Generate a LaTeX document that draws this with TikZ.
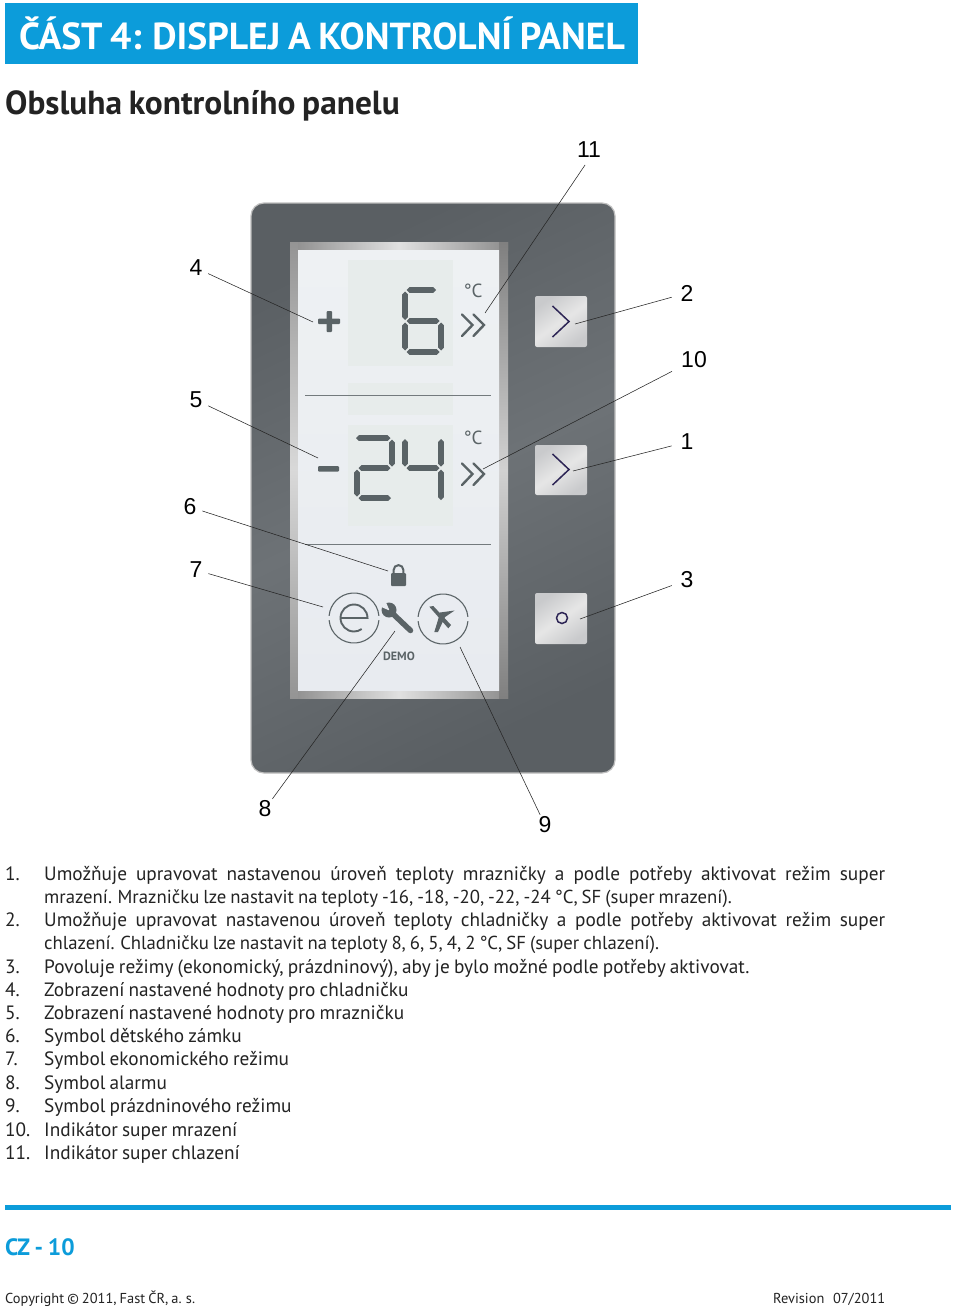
\documentclass[tikz,border=0pt]{standalone}
\usepackage{fontspec}
\setmainfont[WordSpace=0.8]{PT Sans}
\newfontfamily\arialf{Liberation Sans}
\usetikzlibrary{calc}
\definecolor{fastblue}{HTML}{0C9CDA}
\definecolor{lcd}{HTML}{5A6366}
\definecolor{ink}{HTML}{232323}
\definecolor{btnink}{HTML}{2D2555}
\definecolor{screenA}{HTML}{EEF1F3}
\definecolor{screenB}{HTML}{E8EBF0}
\definecolor{ghost}{HTML}{E7ECEB}
\definecolor{panelD}{HTML}{5A5F63}
\definecolor{panelL}{HTML}{6D7276}
\definecolor{keyL}{HTML}{E6E6E6}
\definecolor{keyD}{HTML}{C9CACC}
\newcommand{\hs}[3]{\fill[lcd] (#1,#3) -- (#1+2.8,#3-2.8) -- (#2-2.8,#3-2.8) -- (#2,#3) -- (#2-2.8,#3+2.8) -- (#1+2.8,#3+2.8) -- cycle;}
\newcommand{\vs}[3]{\fill[lcd] (#1,#2) -- (#1+2.8,#2+2.8) -- (#1+2.8,#3-2.8) -- (#1,#3) -- (#1-2.8,#3-2.8) -- (#1-2.8,#2+2.8) -- cycle;}
\tikzset{
  x=1pt,y=-1pt,
  callout/.style={font=\arialf\fontsize{23}{23}\selectfont,text=black,inner sep=1pt},
  leader/.style={draw=black!85,line width=0.55pt},
  bodyline/.style={anchor=base west,inner sep=0pt,font=\fontsize{19.3}{21}\selectfont,text=ink},
  tightline/.style={bodyline,font=\fontsize{18.75}{21}\selectfont},
  justline/.style={bodyline},
  chev/.style={draw=lcd,line width=2.4pt,line cap=round,line join=miter},
  keyglyph/.style={draw=btnink,line width=1.5pt},
  rim/.style={draw=lcd,line width=1.1pt},
  keycap/.style={rounded corners=2pt,top color=keyD,bottom color=keyD,middle color=keyL,shading angle=35},
  divider/.style={draw=lcd!85,line width=0.9pt},
  footer/.style={anchor=base west,inner sep=0pt,font=\fontsize{14.4}{16}\selectfont,text=ink}
}
\begin{document}
\begin{tikzpicture}
\useasboundingbox (0,0) rectangle (960,1309);
\fill[white] (0,0) rectangle (960,1309);
% header
\fill[fastblue] (5,3) rectangle (638,64);
\node[anchor=base west,inner sep=0pt,text=white,font=\bfseries\fontsize{37.6}{39}\selectfont] (title) at (19,49) {ČÁST 4: DISPLEJ A KONTROLNÍ PANEL};
\node[anchor=base west,inner sep=0pt,text=ink,font=\bfseries\fontsize{33.4}{35}\selectfont] (heading) at (5,114) {Obsluha kontrolního panelu};
% panel
\shade[rounded corners=13pt,draw=black!25!white,line width=1.2pt,top color=panelD,bottom color=panelD,middle color=panelL,shading angle=25] (251,203) rectangle (615,773);
% bezel
\shade[left color=black!45,right color=black!45,middle color=black!12] (290,242) rectangle (508,250);
\shade[left color=black!45,right color=black!45,middle color=black!12] (290,690) rectangle (508,698);
\shade[top color=black!42,bottom color=black!42,middle color=black!15] (290,242) rectangle (298,698);
\shade[top color=black!50,bottom color=black!50,middle color=black!18] (499,242) rectangle (508,698);
% screen
\shade[top color=screenA,bottom color=screenB] (298,250) rectangle (499,690);
\fill[ghost] (348,260) rectangle (453,366);
\fill[ghost] (348,383) rectangle (453,415);
\fill[ghost] (348,425) rectangle (453,526);
\draw[divider] (305,395) -- (491,395);
\draw[divider] (305,544) -- (491,544);
% plus and minus
\fill[lcd,rounded corners=1pt] (318,318.5) rectangle (340,324);
\fill[lcd,rounded corners=1pt] (326.5,311) rectangle (332,332);
\fill[lcd,rounded corners=1pt] (318,466) rectangle (339,471.5);
% digit 6
\hs{406.5}{436}{290}\vs{405}{291.5}{320}\hs{406.5}{439.5}{321}\vs{405}{322.5}{350.5}\vs{441}{322.5}{350.5}\hs{406.5}{439.5}{352}
% digit 2
\hs{356}{390.5}{438}\vs{392}{439.5}{466.5}\hs{358.5}{390.5}{468}\vs{357}{469.5}{496.5}\hs{358.5}{391}{498}
% digit 4
\vs{405}{439}{466.5}\hs{406.5}{439.5}{468}\vs{441}{439}{466.5}\vs{441}{469.5}{500}
% units
\node[inner sep=0pt,text=lcd,font=\fontsize{19}{20}\selectfont] (deg1) at (473,291) {°C};
\node[inner sep=0pt,text=lcd,font=\fontsize{19}{20}\selectfont] (deg2) at (473,438) {°C};
% double chevrons
\draw[chev] (462,314.5) -- (472.5,325) -- (462,336);
\draw[chev] (473.5,314.5) -- (484,325) -- (473.5,336);
\draw[chev] (462,463.5) -- (472.5,474) -- (462,485);
\draw[chev] (473.5,463.5) -- (484,474) -- (473.5,485);
% lock
\fill[lcd,rounded corners=1pt] (391,573) rectangle (406,586);
\draw[lcd,line width=2pt] (393.6,574) -- (393.6,570) arc[start angle=180,end angle=0,radius=4.9pt] -- (403.4,574);
% eco icon
\draw[rim] (354,618) ++(5:25pt) arc[start angle=5,end angle=175,radius=25pt];
\draw[rim] (354,618) ++(185:25pt) arc[start angle=185,end angle=355,radius=25pt];
\draw[lcd,line width=1.9pt] (341,618) -- (367.5,618) arc[start angle=0,end angle=305,radius=13.5pt];
% wrench
\fill[lcd] (389,610) circle[radius=7.5pt];
\fill[screenB] (389.5,610.5) -- (379,606) -- (379,600) -- (385,600) -- cycle;
\draw[lcd,line width=5.5pt,line cap=round] (391,612) -- (410.5,630.5);
% plane icon
\draw[rim] (443,619) ++(5:25pt) arc[start angle=5,end angle=175,radius=25pt];
\draw[rim] (443,619) ++(185:25pt) arc[start angle=185,end angle=355,radius=25pt];
\fill[lcd] (429.3,606.7) -- (433.3,606) -- (451,625) -- (448.3,628.3) -- cycle;
\fill[lcd] (454.7,610.5) -- (440,612.5) -- (438,620) -- (434.3,632) -- (438,632) -- (445,617) -- cycle;
\node[inner sep=0pt,text=lcd,font=\bfseries\fontsize{12}{13}\selectfont] (demo) at (399,656) {DEMO};
% keys
\shade[keycap] (535,296) rectangle (587,347);
\shade[keycap] (535,445) rectangle (587,495);
\shade[keycap] (535,593) rectangle (587,644);
\draw[keyglyph] (552.5,306) -- (569,321.5) -- (552.5,337);
\draw[keyglyph] (552.5,454) -- (569,469.5) -- (552.5,485);
\draw[keyglyph] (562,618) circle[radius=5.5pt];
% callouts
\node[callout] (n4) at (196,268) {4};
\node[callout] (n5) at (196,400) {5};
\node[callout] (n6) at (190,507) {6};
\node[callout] (n7) at (196,570) {7};
\node[callout] (n8) at (265,809) {8};
\node[callout] (n9) at (545,825) {9};
\node[callout] (n11) at (589,150) {11};
\node[callout] (n2) at (687,293) {2};
\node[callout] (n10) at (694,360) {10};
\node[callout] (n1) at (687,442) {1};
\node[callout] (n3) at (687,580) {3};
\coordinate (t4) at (313,322);
\coordinate (t5) at (318,458);
\coordinate (t6) at (388,571);
\coordinate (t7) at (323,607);
\coordinate (t8) at (395,631);
\coordinate (t9) at (460,647);
\coordinate (t11) at (485,313);
\coordinate (t2) at (575,324);
\coordinate (t10) at (483,469);
\coordinate (t1) at (573,471);
\coordinate (t3) at (580,619);
\draw[leader,shorten <=5pt] (n4) -- (t4);
\draw[leader,shorten <=5pt] (n5) -- (t5);
\draw[leader,shorten <=5pt] (n6) -- (t6);
\draw[leader,shorten <=5pt] (n7) -- (t7);
\draw[leader,shorten <=1pt] (n8) -- (t8);
\draw[leader,shorten <=1pt] (n9) -- (t9);
\draw[leader,shorten <=7pt] (n11.south) -- (t11);
\draw[leader,shorten <=8pt] (n2) -- (t2);
\draw[leader,shorten <=9pt] (n10) -- (t10);
\draw[leader,shorten <=8pt] (n1) -- (t1);
\draw[leader,shorten <=8pt] (n3) -- (t3);
% list
\node[bodyline] (a1) at (5,880) {1.};
\node[justline] (b1) at (44,880) {\makebox[841pt][s]{Umožňuje upravovat nastavenou úroveň teploty mrazničky a podle potřeby aktivovat režim super}};
\node[tightline] (b1x) at (44,903) {mrazení. Mrazničku lze nastavit na teploty -16, -18, -20, -22, -24 °C, SF (super mrazení).};
\node[bodyline] (a2) at (5,926) {2.};
\node[justline] (b2) at (44,926) {\makebox[841pt][s]{Umožňuje upravovat nastavenou úroveň teploty chladničky a podle potřeby aktivovat režim super}};
\node[tightline] (b2x) at (44,949) {chlazení. Chladničku lze nastavit na teploty 8, 6, 5, 4, 2 °C, SF (super chlazení).};
\node[bodyline] (a3) at (5,973) {3.};
\node[bodyline] (b3) at (44,973) {Povoluje režimy (ekonomický, prázdninový), aby je bylo možné podle potřeby aktivovat.};
\node[bodyline] (a4) at (5,996) {4.};
\node[bodyline] (b4) at (44,996) {Zobrazení nastavené hodnoty pro chladničku};
\node[bodyline] (a5) at (5,1019) {5.};
\node[bodyline] (b5) at (44,1019) {Zobrazení nastavené hodnoty pro mrazničku};
\node[bodyline] (a6) at (5,1042) {6.};
\node[bodyline] (b6) at (44,1042) {Symbol dětského zámku};
\node[bodyline] (a7) at (5,1065) {7.};
\node[bodyline] (b7) at (44,1065) {Symbol ekonomického režimu};
\node[bodyline] (a8) at (5,1089) {8.};
\node[bodyline] (b8) at (44,1089) {Symbol alarmu};
\node[bodyline] (a9) at (5,1112) {9.};
\node[bodyline] (b9) at (44,1112) {Symbol prázdninového režimu};
\node[bodyline] (a10) at (5,1136) {10.};
\node[bodyline] (b10) at (44,1136) {Indikátor super mrazení};
\node[bodyline] (a11) at (5,1159) {11.};
\node[bodyline] (b11) at (44,1159) {Indikátor super chlazení};
% footer
\fill[fastblue] (5,1205) rectangle (951,1210);
\node[anchor=base west,inner sep=0pt,text=fastblue,font=\bfseries\fontsize{23.6}{25}\selectfont] (page) at (5,1255) {CZ - 10};
\node[footer] (copy) at (5,1303) {Copyright © 2011, Fast ČR, a. s.};
\node[footer] (rev) at (773,1303) {\makebox[112pt][s]{Revision 07/2011}};
\end{tikzpicture}
\end{document}
